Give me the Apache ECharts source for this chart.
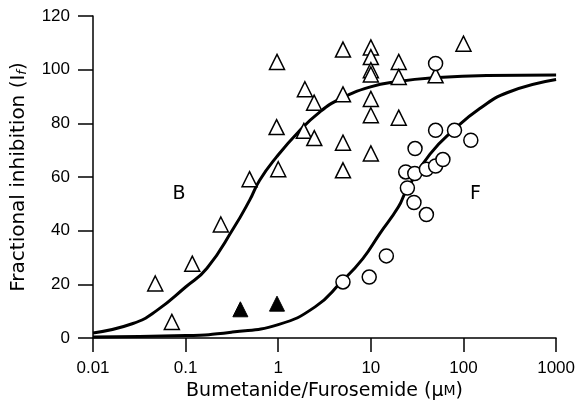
<!DOCTYPE html>
<html>
<head>
<meta charset="utf-8">
<script src="https://cdn.jsdelivr.net/npm/echarts@6/dist/echarts.min.js"></script>
<style>
  html, body { margin: 0; padding: 0; background: #fff; }
  #chart { width: 578px; height: 412px; }
</style>
</head>
<body>
<div id="chart"></div>
<script>
// open triangles: bumetanide
const bumX = [0.047, 0.071, 0.118, 0.24, 0.49, 0.97, 0.96, 1.0, 1.94, 1.89, 2.44, 2.45,
  5, 5, 5, 5, 10, 10, 10, 10, 10, 10, 10, 20, 20, 20, 50, 100]
const bumY = [20.3, 6.0, 27.7, 42.3, 59.2, 102.9, 78.6, 62.9, 92.7, 77.2, 87.7, 74.5,
  107.5, 90.8, 72.8, 62.5, 108.3, 104.7, 99.8, 98.2, 89.1, 83, 68.8, 102.9, 97.3, 82.1, 97.9, 109.7]

// filled triangles
const bumLowX = [0.39, 0.97]
const bumLowY = [10.7, 12.8]

// open circles: furosemide
const furX = [5, 9.6, 14.7, 23.8, 24.8, 29.2, 29.8, 30, 39.8, 39.8, 50, 60, 50, 80, 120, 50]
const furY = [20.9, 22.7, 30.6, 61.9, 55.9, 50.5, 61.3, 70.6, 62.9, 46, 64.1, 66.5, 77.4, 77.4, 73.7, 102.3]

// fitted curves
const curveBX = [0.01, 0.027, 0.049, 0.1, 0.17, 0.33, 0.49, 0.63, 0.96, 1.65, 2.8, 4.6, 9.7, 19.7, 50, 178, 1000]
const curveBY = [1.9, 5.4, 10.3, 19, 26, 41, 51.3, 58.8, 67.5, 76.8, 84.2, 89, 93.5, 95.6, 97, 97.8, 98]
const curveFX = [0.01, 0.1, 0.32, 1, 2.5, 4.8, 8.2, 12.5, 19.8, 24.2, 43.5, 80, 150, 300, 1000]
const curveFY = [0.4, 0.9, 2.2, 5, 11.6, 20.9, 29.6, 38.9, 48.8, 55, 68.5, 77.8, 85.5, 91.5, 96.3]

// curve labels
const tagNames = ['B', 'F']
const tagX = [0.085, 135]
const tagY = [53.6, 53.8]

const xTicks = [0.01, 0.1, 1, 10, 100, 1000]
const yTicks = [0, 20, 40, 60, 80, 100, 120]

const zip = (xs, ys) => xs.map((x, i) => [x, ys[i]])

const chart = echarts.init(document.getElementById('chart'), null, { renderer: 'canvas' })

const axisStyle = { lineStyle: { color: '#000', width: 1.5 } }

const option = {
  animation: false,
  grid: { left: 93, right: 21, top: 16, bottom: 74, containLabel: false },
  xAxis: {
    type: 'log',
    logBase: 10,
    min: xTicks[0],
    max: xTicks[xTicks.length - 1],
    axisLine: axisStyle,
    axisTick: { show: true, length: 14, inside: false, lineStyle: { color: '#000', width: 1.5 } },
    minorTick: { show: false },
    splitLine: { show: false },
    axisLabel: {
      margin: 22,
      color: '#000',
      fontSize: 17,
      fontFamily: 'Liberation Sans',
      formatter: v => String(Number(Number(v).toPrecision(6)))
    },
    name: '{t|Bumetanide/Furosemide (μ}{m|M}{t|)}',
    nameLocation: 'middle',
    nameGap: 44,
    nameTextStyle: {
      rich: {
        t: { fontSize: 19, fontFamily: 'DejaVu Sans', color: '#000' },
        m: { fontSize: 14, fontFamily: 'DejaVu Sans', color: '#000' }
      }
    }
  },
  yAxis: {
    type: 'value',
    min: yTicks[0],
    max: yTicks[yTicks.length - 1],
    interval: 20,
    axisLine: { show: true, lineStyle: { color: '#000', width: 1.5 } },
    axisTick: { show: true, length: 15, inside: false, lineStyle: { color: '#000', width: 1.5 } },
    splitLine: { show: false },
    axisLabel: {
      margin: 23,
      color: '#000',
      fontSize: 17,
      fontFamily: 'Liberation Sans'
    },
    name: '{t|Fractional inhibition (I}{s|f}{t|)}',
    nameLocation: 'middle',
    nameGap: 64,
    nameTextStyle: {
      rich: {
        t: { fontSize: 20, fontFamily: 'DejaVu Sans', color: '#000' },
        s: { fontSize: 13, fontFamily: 'DejaVu Sans', fontStyle: 'italic', color: '#000', verticalAlign: 'bottom' }
      }
    }
  },
  series: [
    {
      type: 'line',
      data: zip(curveBX, curveBY),
      smooth: 0.5,
      symbol: 'none',
      lineStyle: { color: '#000', width: 3 },
      z: 2
    },
    {
      type: 'line',
      data: zip(curveFX, curveFY),
      smooth: 0.5,
      symbol: 'none',
      lineStyle: { color: '#000', width: 3 },
      z: 2
    },
    {
      type: 'scatter',
      data: zip(bumX, bumY),
      symbol: 'triangle',
      symbolSize: 15,
      itemStyle: { color: '#fff', borderColor: '#000', borderWidth: 1.5, opacity: 1 },
      z: 3
    },
    {
      type: 'scatter',
      data: zip(bumLowX, bumLowY),
      symbol: 'triangle',
      symbolSize: 15,
      itemStyle: { color: '#000', borderColor: '#000', borderWidth: 1, opacity: 1 },
      z: 3
    },
    {
      type: 'scatter',
      data: zip(furX, furY),
      symbol: 'circle',
      symbolSize: 14,
      itemStyle: { color: '#fff', borderColor: '#000', borderWidth: 1.5, opacity: 1 },
      z: 4
    },
    {
      type: 'scatter',
      data: tagNames.map((n, i) => ({ name: n, value: [tagX[i], tagY[i]] })),
      symbolSize: 0,
      itemStyle: { opacity: 1 },
      label: {
        show: true,
        position: 'inside',
        formatter: p => p.name,
        fontSize: 19,
        fontFamily: 'DejaVu Sans',
        color: '#000'
      },
      z: 5
    }
  ]
}

chart.setOption(option)
</script>
</body>
</html>
